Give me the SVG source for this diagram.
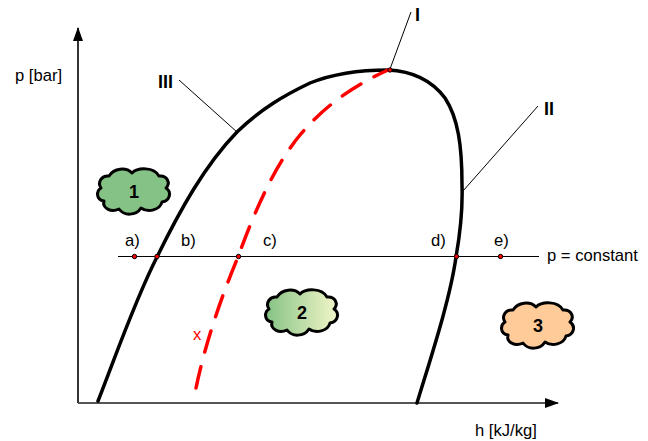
<svg xmlns="http://www.w3.org/2000/svg" width="648" height="441" viewBox="0 0 648 441">
<style>
text{font-family:"Liberation Sans",Arial,sans-serif;font-size:16.6px;fill:#000}
.b{font-weight:bold;font-size:18px}
.cloud{stroke:#000;stroke-width:3;stroke-linejoin:round}
.num{font-weight:bold;font-size:18px;text-anchor:middle}
.curve{fill:none;stroke:#000;stroke-width:3.5;stroke-linecap:round}
.red{fill:none;stroke:#f00;stroke-width:3.5;stroke-linecap:round;stroke-dasharray:22 15}
.thin{fill:none;stroke:#000;stroke-width:1}
.dot{fill:#f00;stroke:#000;stroke-width:1}
</style>
<defs>
<path id="c" d="M-25,-16C-20,-24 -8,-25 -2,-19C4,-25 20,-25 25,-16C33,-17 37,-9 32,-4C38,0 36,9 28,10C26,18 14,21 7,16C2,24 -10,24 -15,17C-23,21 -32,16 -30,9C-38,8 -38,-1 -33,-4C-37,-10 -32,-17 -25,-16Z"/>
<linearGradient id="g2" x1="0" x2="1" y1="0" y2="0"><stop offset="0" stop-color="#85c285"/><stop offset="1" stop-color="#f2f6c8"/></linearGradient>
<marker id="arrow" markerUnits="userSpaceOnUse" markerWidth="14" markerHeight="10" refX="13" refY="5" orient="auto"><path d="M0,0L14,5L0,10Z" fill="#000"/></marker>
</defs>
<g id="connectors">
<path class="thin" style="stroke-width:1.6" d="M78,403V28" marker-end="url(#arrow)"/>
<path class="thin" style="stroke:#555;stroke-width:2" d="M78,403H558" marker-end="url(#arrow)"/>
<path class="curve" d="M98,401C115,358 135,300 157,257C180,210 205,165 237,132C262,108 285,95 310,83C335,73 365,70 388,70C410,71 430,78 445,98C458,118 462,145 462,185C463,215 459,240 456,257C450,300 430,360 417,403"/>
<path class="red" d="M196,388C205,345 220,300 238,257C255,210 275,165 300,135C325,105 355,85 388,70"/>
<path class="thin" d="M118,256.500H539"/>
<path class="thin" d="M390,69L411,12"/>
<path class="thin" d="M463,191L538,106"/>
<path class="thin" d="M237,132L179,80"/>
</g>
<g id="points">
<circle class="dot" cx="134.500" cy="256.500" r="2.2"/><circle class="dot" cx="157" cy="256.500" r="2.2"/><circle class="dot" cx="238.500" cy="256.500" r="2.2"/><circle class="dot" cx="456.500" cy="256.500" r="2.2"/><circle class="dot" cx="500.500" cy="256.500" r="2.2"/><circle class="dot" cx="390" cy="70" r="2.2"/>
</g>
<g id="node-1"><use href="#c" class="cloud" fill="#85c285" x="134" y="192"/><text class="num" x="134" y="198">1</text></g>
<g id="node-2"><use href="#c" class="cloud" fill="url(#g2)" x="302" y="313"/><text class="num" x="302" y="319">2</text></g>
<g id="node-3"><use href="#c" class="cloud" fill="#ffcc99" x="538" y="326"/><text class="num" x="538" y="332">3</text></g>
<g id="labels">
<text x="15" y="81">p [bar]</text>
<text x="475" y="436">h [kJ/kg]</text>
<text x="125" y="246">a)</text><text x="181" y="246">b)</text><text x="263" y="246">c)</text><text x="431" y="246">d)</text><text x="494" y="246">e)</text>
<text x="547" y="261">p = constant</text>
<text class="b" x="415" y="21">I</text>
<text class="b" x="544" y="115">II</text>
<text class="b" x="158" y="88">III</text>
<text x="193" y="340" style="fill:#f00">x</text>
</g>
</svg>
